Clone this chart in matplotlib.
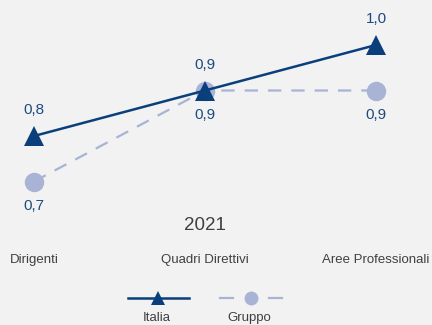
import matplotlib
matplotlib.use("Agg")
import matplotlib.pyplot as plt
from matplotlib.lines import Line2D

categories = ["Dirigenti", "Quadri Direttivi", "Aree Professionali"]
italia = [0.8, 0.9, 1.0]
gruppo = [0.7, 0.9, 0.9]
year_label = "2021"
series_names = ["Italia", "Gruppo"]

BG = "#f2f2f2"
NAVY = "#0a3f7c"
LIGHT = "#a8b3d6"
LABEL_BLUE = "#1d4a80"
GREY = "#404040"

plt.rcParams["font.family"] = ["Liberation Sans", "DejaVu Sans"]

W, H = 432, 325
fig = plt.figure(figsize=(W / 100, H / 100), dpi=100, facecolor=BG)
ax = fig.add_axes([0, 0, 1, 1], facecolor=BG)

# map data space so the categories sit at the right horizontal spots
x = list(range(len(categories)))
px_per_x = 171.0
left_px = 34.0
ax.set_xlim(-left_px / px_per_x, (W - left_px) / px_per_x)
px_per_v = 455.0
v_at_136 = 0.8
ax.set_ylim(v_at_136 - (H - 136) / px_per_v, v_at_136 + 136 / px_per_v)
ax.axis("off")

ax.plot(x, gruppo, color=LIGHT, lw=1.6, dashes=(6, 4.5), marker="o",
        markersize=14, markeredgewidth=0, zorder=2)
ax.plot(x, italia, color=NAVY, lw=1.8, marker="^", markersize=15,
        markeredgewidth=0, zorder=3)

def fmt(v):
    return f"{v:.1f}".replace(".", ",")

for xi, v in zip(x, italia):
    ax.annotate(fmt(v), (xi, v), xytext=(0, 18.5), textcoords="offset points",
                ha="center", va="center", fontsize=11, color=LABEL_BLUE)
for xi, v in zip(x, gruppo):
    ax.annotate(fmt(v), (xi, v), xytext=(0, -17.5), textcoords="offset points",
                ha="center", va="center", fontsize=11, color=LABEL_BLUE)

# year title and category labels
fig.text(205 / W, 1 - 226 / H, year_label, ha="center", va="center",
         fontsize=13.5, color=GREY)
for xi, name in zip(x, categories):
    ax.annotate(name, (xi, 0), xycoords=("data", "figure fraction"),
                xytext=(0, (H - 260) * 0.72), textcoords="offset points",
                ha="center", va="center", fontsize=9.5, color=GREY)

# legend with labels beneath the keys
lg = fig.add_axes([0, 0, 1, 1], facecolor="none")
lg.set_xlim(0, W)
lg.set_ylim(H, 0)
lg.axis("off")
lg.add_line(Line2D([128, 189], [298, 298], color=NAVY, lw=1.8))
lg.add_line(Line2D([158], [298], color=NAVY, marker="^", markersize=10,
                   markeredgewidth=0, lw=0))
for x0, x1 in [(220, 233), (269, 282)]:
    lg.add_line(Line2D([x0, x1], [298, 298], color=LIGHT, lw=1.6))
lg.add_line(Line2D([251], [298], color=LIGHT, marker="o", markersize=10,
                   markeredgewidth=0, lw=0))
lg.text(157, 318, series_names[0], ha="center", va="center", fontsize=9.5, color=GREY)
lg.text(249, 318, series_names[1], ha="center", va="center", fontsize=9.5, color=GREY)

fig.savefig("out.png", dpi=100, facecolor=BG)
